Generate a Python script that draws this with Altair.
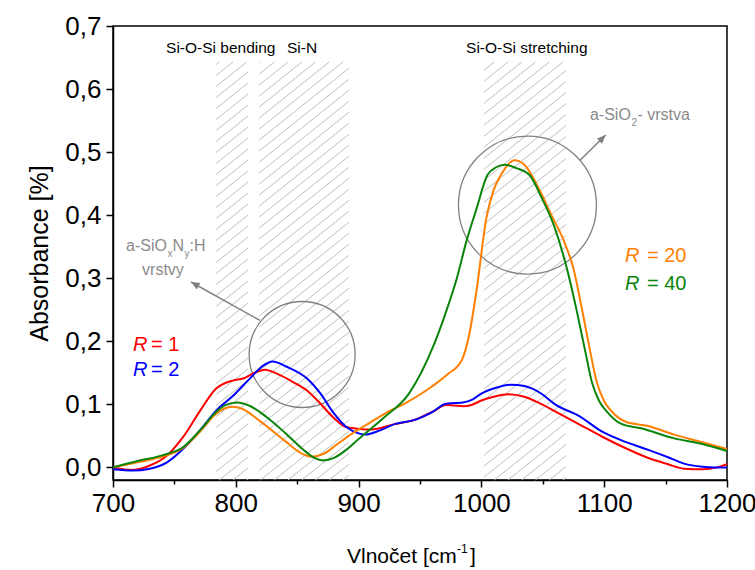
import altair as alt
import numpy as np
import pandas as pd

# ---------------- data ----------------
red_x = [700, 716, 730, 744, 757, 771, 784, 798, 806, 814, 824, 833, 847, 858, 869, 879, 890, 901, 910, 930,
         945, 961, 971, 978, 985, 992, 1000, 1010, 1022, 1035, 1048, 1060, 1080, 1098, 1118, 1137, 1152, 1165,
         1180, 1192, 1200]
red_y = [0.0, -0.004, 0.003, 0.019, 0.048, 0.090, 0.125, 0.138, 0.141, 0.149, 0.155, 0.149, 0.135, 0.122, 0.101,
         0.080, 0.064, 0.061, 0.060, 0.069, 0.075, 0.089, 0.099, 0.098, 0.097, 0.099, 0.106, 0.112, 0.116, 0.112,
         0.101, 0.089, 0.068, 0.049, 0.030, 0.014, 0.005, -0.002, -0.003, 0.0, 0.005]

blue_x = [700, 716, 730, 744, 760, 771, 784, 798, 812, 822, 830, 841, 858, 869, 879, 890, 900, 906, 915, 930,
          945, 961, 971, 978, 985, 993, 1000, 1010, 1024, 1035, 1048, 1060, 1080, 1098, 1118, 1137, 1152, 1165,
          1180, 1190, 1200]
blue_y = [-0.003, -0.005, -0.002, 0.008, 0.035, 0.059, 0.090, 0.114, 0.142, 0.161, 0.168, 0.160, 0.141, 0.117,
          0.088, 0.064, 0.054, 0.052, 0.057, 0.069, 0.075, 0.089, 0.101, 0.102, 0.103, 0.108, 0.117, 0.125, 0.131,
          0.129, 0.118, 0.100, 0.081, 0.057, 0.040, 0.027, 0.016, 0.006, 0.001, 0.0, 0.0]

orange_x = [700, 720, 740, 757, 771, 784, 797, 805, 820, 840, 852, 862, 872, 882, 892, 905, 921, 940, 955, 972,
            984, 990, 996, 1004, 1010, 1016, 1027, 1035, 1047, 1057, 1067, 1075, 1082, 1088, 1094, 1100, 1106,
            1118, 1135, 1157, 1180, 1200]
orange_y = [0.0, 0.008, 0.017, 0.031, 0.057, 0.085, 0.096, 0.093, 0.073, 0.042, 0.024, 0.017, 0.022, 0.036, 0.050,
            0.066, 0.085, 0.104, 0.122, 0.147, 0.170, 0.210, 0.280, 0.395, 0.440, 0.464, 0.487, 0.480, 0.441, 0.400,
            0.360, 0.315, 0.250, 0.190, 0.135, 0.105, 0.089, 0.072, 0.066, 0.052, 0.040, 0.029]

green_x = [700, 720, 740, 757, 771, 784, 792, 801, 812, 825, 840, 855, 864, 871, 880, 890, 900, 920, 941, 961,
           970, 980, 988, 996, 1005, 1012, 1019, 1028, 1039, 1049, 1059, 1069, 1078, 1085, 1090, 1096, 1102, 1114,
           1130, 1157, 1180, 1200]
green_y = [0.0, 0.010, 0.019, 0.032, 0.059, 0.088, 0.099, 0.103, 0.097, 0.080, 0.055, 0.028, 0.015, 0.011, 0.015,
           0.028, 0.045, 0.078, 0.117, 0.193, 0.240, 0.300, 0.360, 0.410, 0.464, 0.476, 0.480, 0.475, 0.464, 0.428,
           0.384, 0.320, 0.245, 0.180, 0.135, 0.105, 0.089, 0.069, 0.062, 0.046, 0.037, 0.026]

series_names = ["R = 1", "R = 2", "R = 20", "R = 40"]
series_colors = ["#ff0000", "#0000ff", "#ff8000", "#0a850a"]

# hatched bands (wavenumber ranges) and their top
band_lo = [784, 819, 1002]
band_hi = [810, 892, 1069]
band_top = 0.643

# circles (centre wn, centre absorbance, radius px) and arrows
circ_x = [854, 1037.5]
circ_y = [0.179, 0.416]
circ_r = [53, 69]
arr_x0 = [819.7, 1080.3]
arr_y0 = [0.233, 0.487]
arr_x1 = [763.5, 1101.2]
arr_y1 = [0.294, 0.527]

# ---------------- geometry ----------------
X_MIN, X_MAX = 700, 1200
Y_MIN, Y_MAX = -0.02, 0.7
W, H = 614, 454
PXX = W / (X_MAX - X_MIN)
PXY = H / (Y_MAX - Y_MIN)

xs = alt.Scale(domain=[X_MIN, X_MAX], nice=False, zero=False)
ys = alt.Scale(domain=[Y_MIN, Y_MAX], nice=False, zero=False)

FONT = "Liberation Sans"

# ---------------- hatch lines ----------------
slope = 0.8
vsp = 11.0
seg = []
for w0, w1 in zip(band_lo, band_hi):
    X0, X1 = (w0 - X_MIN) * PXX, (w1 - X_MIN) * PXX
    Yt, Yb = (Y_MAX - band_top) * PXY, (Y_MAX - Y_MIN) * PXY
    cmin, cmax = Yt + slope * X0, Yb + slope * X1
    k0, k1 = int(np.floor(cmin / vsp)), int(np.ceil(cmax / vsp))
    for k in range(k0, k1 + 1):
        c = k * vsp
        xa = max(X0, (c - Yb) / slope)
        xb = min(X1, (c - Yt) / slope)
        if xb - xa > 0.5:
            ya, yb = c - slope * xa, c - slope * xb
            seg.append({"x": X_MIN + xa / PXX, "y": Y_MAX - ya / PXY,
                        "x2": X_MIN + xb / PXX, "y2": Y_MAX - yb / PXY})
hatch_df = pd.DataFrame(seg)

hatch = alt.Chart(hatch_df).mark_rule(color="#bdbdbd", strokeWidth=1).encode(
    x=alt.X("x:Q", scale=xs), y=alt.Y("y:Q", scale=ys), x2="x2:Q", y2="y2:Q")

# ---------------- curves ----------------
rows = []
for name, xv, yv in zip(series_names, [red_x, blue_x, orange_x, green_x], [red_y, blue_y, orange_y, green_y]):
    for a, b in zip(xv, yv):
        rows.append({"series": name, "wn": a, "ab": b})
curves_df = pd.DataFrame(rows)

curves = alt.Chart(curves_df).mark_line(strokeWidth=2, interpolate="monotone", clip=True).encode(
    x=alt.X("wn:Q", scale=xs,
            axis=alt.Axis(values=list(range(700, 1201, 50)),
                          labelExpr="datum.value % 100 == 0 ? datum.value : ''",
                          tickSize={"condition": {"test": "datum.value % 100 == 0", "value": 7}, "value": 4},
                          labelFontSize=26, labelFont=FONT, labelColor="black", labelPadding=3,
                          domainColor="black", domainWidth=1.5, tickColor="black", tickWidth=1.5,
                          grid=False, title=None, labelFlush=False)),
    y=alt.Y("ab:Q", scale=ys,
            axis=alt.Axis(values=[round(i * 0.05, 2) for i in range(15)],
                          labelExpr="round(datum.value*100) % 10 == 0 ? replace(format(datum.value, '.1f'), '.', ',') : ''",
                          tickSize={"condition": {"test": "round(datum.value*100) % 10 == 0", "value": 7}, "value": 4},
                          labelFontSize=26, labelFont=FONT, labelColor="black", labelPadding=5,
                          domainColor="black", domainWidth=1.5, tickColor="black", tickWidth=1.5,
                          grid=False, title="Absorbance [%]", titleFont=FONT, titleFontSize=25,
                          titleFontWeight="normal", titleColor="black", titlePadding=12, labelFlush=False)),
    color=alt.Color("series:N", scale=alt.Scale(domain=series_names, range=series_colors), legend=None),
    order=alt.Order("wn:Q"),
)

# ---------------- circles & arrows ----------------
circ_df = pd.DataFrame({"x": circ_x, "y": circ_y, "s": [(2 * r) ** 2 for r in circ_r]})
circles = alt.Chart(circ_df).mark_point(shape="circle", filled=False, color="#808080", strokeWidth=1.3,
                                        opacity=1).encode(
    x=alt.X("x:Q", scale=xs), y=alt.Y("y:Q", scale=ys), size=alt.Size("s:Q", scale=None))

arr_df = pd.DataFrame({"x": arr_x0, "y": arr_y0, "x2": arr_x1, "y2": arr_y1})
arr_df["ang"] = [float(np.degrees(np.arctan2((b - a) * PXX, (d - c) * PXY)) % 360)
                 for a, b, c, d in zip(arr_x0, arr_x1, arr_y0, arr_y1)]
arrows = alt.Chart(arr_df).mark_rule(color="#808080", strokeWidth=1.5).encode(
    x=alt.X("x:Q", scale=xs), y=alt.Y("y:Q", scale=ys), x2="x2:Q", y2="y2:Q")
heads = alt.Chart(arr_df).mark_point(shape="M0,0L-0.42,1L0.42,1Z", filled=True, color="#808080",
                                     size=300, opacity=1).encode(
    x=alt.X("x2:Q", scale=xs), y=alt.Y("y2:Q", scale=ys), angle=alt.Angle("ang:Q", scale=None))

# ---------------- text annotations ----------------
t_text = ["Si-O-Si bending", "Si-N", "Si-O-Si stretching",
          "a-SiO", "2", "- vrstva",
          "a-SiO", "x", "N", "y", ":H",
          "= 1", "= 2", "= 20", "= 40"]
t_x = [743.2, 841.7, 987.5,
       1088.4, 1122.2, 1127.1,
       710.6, 744.4, 748.5, 758.2, 762.3,
       730.9, 730.9, 1134.8, 1134.8]
t_y = [0.657, 0.657, 0.657,
       0.551, 0.542, 0.551,
       0.343, 0.334, 0.343, 0.334, 0.343,
       0.185, 0.145, 0.325, 0.281]
t_size = [15.5, 15.5, 15.5,
          16, 10, 16,
          16, 10, 16, 10, 16,
          20, 20, 20, 20]
GRAY = "#8a8a8a"
t_color = ["black", "black", "black",
           GRAY, GRAY, GRAY,
           GRAY, GRAY, GRAY, GRAY, GRAY,
           "#ff0000", "#0000ff", "#ff8000", "#0a850a"]
txt_df = pd.DataFrame({"t": t_text, "x": t_x, "y": t_y, "s": t_size, "c": t_color})
texts = alt.Chart(txt_df).mark_text(align="left", baseline="alphabetic", font=FONT).encode(
    x=alt.X("x:Q", scale=xs), y=alt.Y("y:Q", scale=ys), text="t:N",
    size=alt.Size("s:Q", scale=None), color=alt.Color("c:N", scale=None))

ctr_df = pd.DataFrame({"t": ["vrstvy"], "x": [740.7], "y": [0.305]})
ctexts = alt.Chart(ctr_df).mark_text(align="center", baseline="alphabetic", font=FONT, fontSize=16,
                                     color=GRAY).encode(
    x=alt.X("x:Q", scale=xs), y=alt.Y("y:Q", scale=ys), text="t:N")

r_df = pd.DataFrame({"t": ["R", "R", "R", "R"], "x": [716.3, 716.3, 1116.9, 1116.9],
                     "y": [0.185, 0.145, 0.325, 0.281], "c": series_colors})
rtexts = alt.Chart(r_df).mark_text(align="left", baseline="alphabetic", font=FONT, fontSize=20,
                                   fontStyle="italic").encode(
    x=alt.X("x:Q", scale=xs), y=alt.Y("y:Q", scale=ys), text="t:N", color=alt.Color("c:N", scale=None))

# x-axis title with superscript (pixel positions relative to plot area)
xt_df = pd.DataFrame({"t": ["Vlnočet [cm", "-1", "]"], "px": [234, 344, 357], "py": [537, 527, 537],
                      "s": [21, 12, 21]})
xtitle = alt.Chart(xt_df).mark_text(align="left", baseline="alphabetic", font=FONT, color="black").encode(
    x=alt.X("px:Q", scale=None), y=alt.Y("py:Q", scale=None), text="t:N", size=alt.Size("s:Q", scale=None))

chart = alt.layer(hatch, circles, arrows, heads, curves, texts, ctexts, rtexts, xtitle).properties(
    width=W, height=H,
    autosize=alt.AutoSizeParams(type="none"),
    padding={"left": 113, "top": 26, "right": 28, "bottom": 90},
    background="white",
).configure_view(stroke="black", strokeWidth=1.5)

chart.save("out.html", embed_options={"renderer": "svg", "actions": False})
